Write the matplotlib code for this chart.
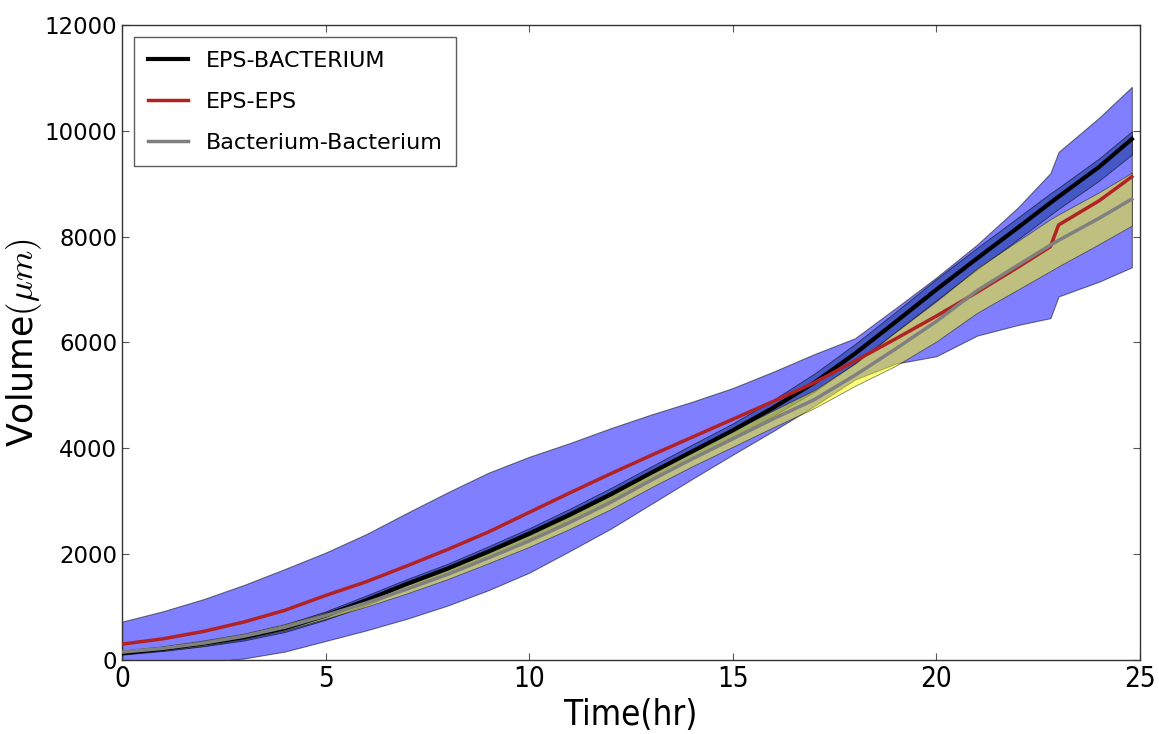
import numpy as np
import matplotlib
matplotlib.use("Agg")
import matplotlib.pyplot as plt

plt.rcParams['mathtext.fontset'] = 'cm'

# time points (hr)
t = [0, 1, 2, 3, 4, 5, 6, 7, 8, 9, 10, 11, 12, 13, 14, 15, 16, 17, 18, 19, 20, 21, 22, 22.8, 23, 24, 24.8]

# EPS-BACTERIUM mean and band
eps_bact = [130, 210, 310, 430, 600, 840, 1130, 1440, 1730, 2050, 2390, 2750, 3130, 3540, 3940, 4340, 4770, 5240, 5790, 6390, 7000, 7590, 8170, 8640, 8755, 9320, 9845]
eps_bact_lo = [100, 170, 260, 370, 530, 760, 1040, 1350, 1640, 1950, 2290, 2640, 3010, 3420, 3810, 4210, 4620, 5070, 5610, 6200, 6800, 7380, 7950, 8410, 8525, 9060, 9550]
eps_bact_hi = [160, 250, 360, 490, 670, 920, 1220, 1530, 1820, 2150, 2490, 2860, 3250, 3660, 4070, 4470, 4920, 5410, 5970, 6580, 7200, 7790, 8360, 8820, 8925, 9480, 9990]

# EPS-EPS mean and band
eps_eps = [300, 400, 540, 720, 940, 1220, 1480, 1780, 2090, 2420, 2790, 3160, 3520, 3870, 4210, 4550, 4890, 5240, 5650, 6070, 6500, 6950, 7420, 7810, 8220, 8680, 9133]
eps_eps_lo = [-125, -100, -50, 30, 160, 360, 560, 780, 1030, 1320, 1650, 2060, 2480, 2950, 3420, 3880, 4330, 4800, 5300, 5600, 5740, 6130, 6330, 6460, 6870, 7150, 7420]
eps_eps_hi = [725, 920, 1150, 1420, 1720, 2030, 2380, 2780, 3170, 3540, 3840, 4100, 4380, 4640, 4880, 5140, 5450, 5780, 6080, 6650, 7230, 7850, 8550, 9200, 9600, 10250, 10830]

# Bacterium-Bacterium mean and band
bact_bact = [150, 220, 320, 450, 620, 840, 1080, 1340, 1620, 1930, 2250, 2600, 2980, 3400, 3800, 4180, 4560, 4920, 5380, 5880, 6400, 6980, 7460, 7840, 7930, 8350, 8710]
bact_bact_lo = [120, 180, 270, 400, 560, 780, 1010, 1260, 1530, 1830, 2140, 2480, 2850, 3265, 3660, 4030, 4400, 4760, 5180, 5560, 6020, 6560, 7000, 7350, 7440, 7860, 8210]
bact_bact_hi = [180, 260, 370, 500, 680, 900, 1150, 1420, 1710, 2030, 2360, 2720, 3110, 3535, 3940, 4330, 4720, 5100, 5600, 6200, 6780, 7400, 7920, 8330, 8420, 8840, 9210]

fig = plt.figure(figsize=(11.59, 7.34), dpi=100)
ax = fig.add_axes([0.1053, 0.1008, 0.8783, 0.8652])

ax.fill_between(t, eps_eps_lo, eps_eps_hi, facecolor=(0, 0, 1), alpha=0.5,
                edgecolor=(0, 0, 0, 0.6), linewidth=0.8, zorder=1)
ax.fill_between(t, eps_bact_lo, eps_bact_hi, facecolor='#1f3fa0', alpha=0.6,
                edgecolor=(0, 0, 0, 0.5), linewidth=0.6, zorder=2)
ax.fill_between(t, bact_bact_lo, bact_bact_hi, facecolor=(1, 1, 0), alpha=0.5,
                edgecolor=(0, 0, 0, 0.6), linewidth=0.6, zorder=3)

ax.plot(t, eps_bact, color='black', lw=3, label='EPS-BACTERIUM', zorder=5)
ax.plot(t, eps_eps, color='#b22222', lw=2.5, label='EPS-EPS', zorder=6)
ax.plot(t, bact_bact, color='#808080', lw=2.5, label='Bacterium-Bacterium', zorder=7)

ax.set_xlim(0, 25)
ax.set_ylim(0, 12000)
ax.set_xticks([0, 5, 10, 15, 20, 25])
ax.set_yticks([0, 2000, 4000, 6000, 8000, 10000, 12000])
ax.tick_params(direction='in', top=True, right=True, length=5, width=0.8, color='#555555')
for lab in ax.get_yticklabels():
    lab.set_fontsize(16.5)
for lab in ax.get_xticklabels():
    lab.set_fontsize(20)
    lab.set_fontstretch('condensed')
for s in ax.spines.values():
    s.set_color('#333333')
    s.set_linewidth(1.0)

ax.set_xlabel('Time(hr)', fontsize=25, fontstretch='condensed', labelpad=4)
ax.set_ylabel(r'Volume$(\mu m)$', fontsize=25)
ax.yaxis.set_label_coords(-0.077, 0.5)

leg = ax.legend(loc='upper left', fontsize=16, frameon=True, fancybox=False,
                handlelength=1.8, borderpad=0.6, labelspacing=0.95,
                handletextpad=0.8, borderaxespad=0.55)
leg.get_frame().set_edgecolor('#333333')
leg.get_frame().set_linewidth(1.0)

fig.savefig('out.png', dpi=100)
